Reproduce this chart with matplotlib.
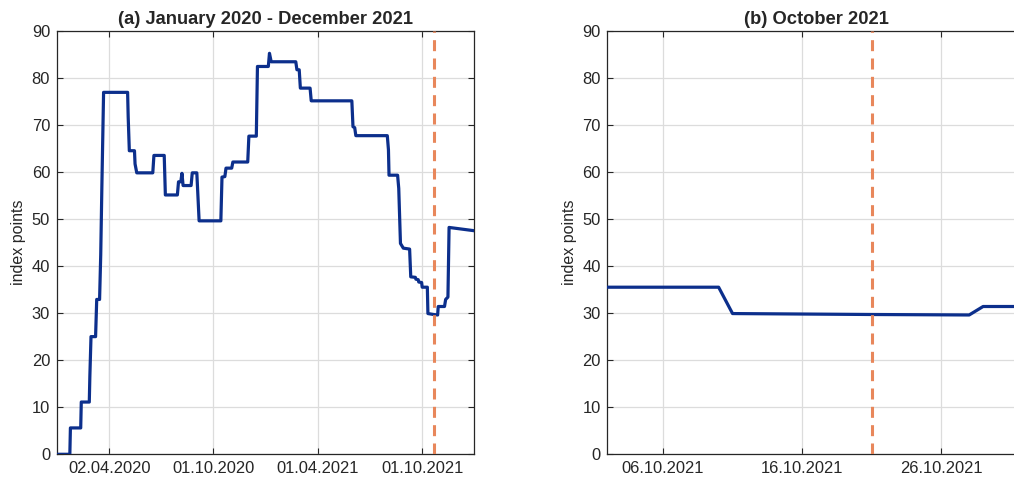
import numpy as np
import pandas as pd
import matplotlib
matplotlib.use('Agg')
import matplotlib.pyplot as plt
import matplotlib.dates as mdates

plt.rcParams['font.family'] = ['Liberation Sans', 'DejaVu Sans']

# change points of the index (date, value)
dates = ['2020-01-01', '2020-01-24', '2020-01-25', '2020-02-12', '2020-02-13',
         '2020-02-27', '2020-02-28', '2020-03-01', '2020-03-09', '2020-03-11',
         '2020-03-16', '2020-03-18', '2020-03-20', '2020-03-23', '2020-05-04',
         '2020-05-05', '2020-05-07', '2020-05-16', '2020-05-17', '2020-05-20',
         '2020-06-17', '2020-06-19', '2020-07-07', '2020-07-09', '2020-07-30',
         '2020-08-01', '2020-08-05', '2020-08-07', '2020-08-09', '2020-08-23',
         '2020-08-25', '2020-09-02', '2020-09-06', '2020-10-14', '2020-10-16',
         '2020-10-21', '2020-10-23', '2020-11-02', '2020-11-04', '2020-11-30',
         '2020-12-02', '2020-12-15', '2020-12-17', '2021-01-05', '2021-01-07',
         '2021-01-10', '2021-02-22', '2021-02-24', '2021-02-28', '2021-03-02',
         '2021-03-19', '2021-03-21', '2021-05-31', '2021-06-02', '2021-06-05',
         '2021-06-07', '2021-08-01', '2021-08-03', '2021-08-04', '2021-08-19',
         '2021-08-21', '2021-08-24', '2021-08-29', '2021-09-09', '2021-09-11',
         '2021-09-19', '2021-09-20', '2021-09-24', '2021-09-25', '2021-09-30',
         '2021-10-01', '2021-10-10', '2021-10-11',
         '2021-10-21', '2021-10-28', '2021-10-29', '2021-11-09', '2021-11-11',
         '2021-11-15', '2021-11-17', '2021-12-31']
values = [0.0, 0.0, 5.6, 5.6, 11.1,
          11.1, 16.6, 25.0, 25.0, 32.9,
          32.9, 42.4, 56.9, 76.9, 76.9,
          71.7, 64.5, 64.5, 61.7, 59.8,
          59.8, 63.5, 63.5, 55.1, 55.1,
          57.9, 57.9, 59.7, 57.1, 57.1,
          59.8, 59.8, 49.6, 49.6, 58.9,
          59.0, 60.8, 60.8, 62.1, 62.1,
          67.6, 67.6, 82.4, 82.4, 85.2,
          83.4, 83.4, 81.7, 81.7, 77.8,
          77.8, 75.1, 75.1, 69.6, 69.4,
          67.7, 67.7, 64.7, 59.3, 59.3,
          56.5, 44.8, 43.8, 43.6, 37.7,
          37.6, 37.2, 37.1, 36.6, 36.5,
          35.5, 35.5, 29.9,
          29.7, 29.6, 31.4, 31.4, 32.9,
          33.4, 48.2, 47.5]

event_date = '2021-10-21'

left_ticks = ['2020-04-02', '2020-10-01', '2021-04-01', '2021-10-01']
right_ticks = ['2021-10-06', '2021-10-16', '2021-10-26']

t = pd.to_datetime(dates)
line_color = '#0c2f8c'
event_color = '#e8875b'


def style_axis(ax, ticks, fmt, xlim):
    ax.set_xlim(pd.to_datetime(xlim[0]), pd.to_datetime(xlim[1]))
    ax.set_ylim(0, 90)
    ax.set_yticks(np.arange(0, 91, 10))
    ax.set_xticks(pd.to_datetime(ticks))
    ax.xaxis.set_major_formatter(mdates.DateFormatter(fmt))
    ax.grid(True, color='#dcdcdc', linewidth=0.9)
    ax.set_axisbelow(True)
    ax.tick_params(direction='in', top=True, right=True, length=4,
                   labelsize=11.9, colors='#262626', width=0.8, pad=4.8)
    for s in ax.spines.values():
        s.set_color('#262626')
        s.set_linewidth(0.9)
    ax.set_ylabel('index points', fontsize=11.5, color='#262626', labelpad=4)


fig = plt.figure(figsize=(10.14, 4.82), dpi=100)
ax1 = fig.add_axes([0.0559, 0.0575, 0.4118, 0.8788])
ax2 = fig.add_axes([0.5989, 0.0575, 0.4118, 0.8788])

for ax in (ax1, ax2):
    ax.plot(t, values, color=line_color, linewidth=2.3, zorder=3)
    ax.axvline(pd.to_datetime(event_date), color=event_color, linewidth=2.2,
               linestyle=(0, (3.6, 2.4)), zorder=4)

style_axis(ax1, left_ticks, '%d.%m.%Y', ('2020-01-01', '2021-12-31'))
style_axis(ax2, right_ticks, '%d.%m.%Y', ('2021-10-02', '2021-11-01'))

ax1.set_title('(a) January 2020 - December 2021', fontsize=13.2,
              fontweight='bold', color='#262626', pad=5)
ax2.set_title('(b) October 2021', fontsize=13.2, fontweight='bold',
              color='#262626', pad=5)

fig.savefig('out.png', dpi=100)
